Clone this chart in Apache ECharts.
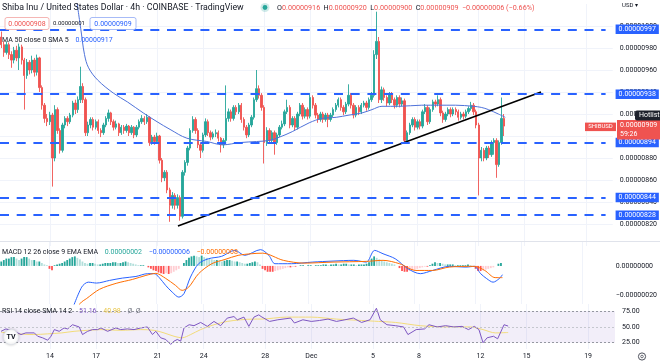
<!DOCTYPE html>
<html><head><meta charset="utf-8">
<script src="https://cdn.jsdelivr.net/npm/echarts@6/dist/echarts.min.js"></script>
<style>html,body{margin:0;padding:0;background:#fff}#c{width:660px;height:362px}</style>
</head><body><div id="c"></div>
<script>
// ---- price data (units of 1e-8 USD), one 4h candle per slot ----
const opens = [990,983,976,983,974,969,978,971,981,969,
955,967,960,969,958,971,944,928,916,913,
919,880,924,905,887,910,916,913,919,930,
924,933,945,933,903,910,915,908,913,905,
903,910,916,921,913,908,911,903,908,905,
909,903,908,901,908,913,916,913,917,894,
899,895,900,878,862,867,851,837,846,837,
844,827,867,876,889,905,915,905,892,887,
901,913,903,899,902,903,898,892,896,916,
922,916,926,922,928,915,908,901,910,917,
933,943,937,926,894,905,896,903,894,901,
908,911,922,926,910,916,908,920,928,918,
924,918,935,928,919,915,920,915,919,915,
919,924,928,933,926,922,929,937,928,919,
926,922,928,930,926,933,937,974,986,933,
942,935,930,938,933,928,935,929,932,896,
903,910,915,908,913,909,922,926,913,924,
931,929,933,921,915,920,924,920,924,922,
917,920,918,922,925,928,922,910,880,887,
880,889,883,894,896,874,894,916];
const closes = [983,976,983,974,969,978,971,981,969,955,
967,960,969,958,971,944,928,916,913,919,
880,924,905,887,910,916,913,919,930,924,
933,945,933,903,910,915,908,913,905,903,
910,916,921,913,908,911,903,908,905,909,
903,908,901,908,913,916,913,917,894,899,
895,900,878,862,867,851,837,846,837,844,
827,867,876,889,905,915,905,892,887,901,
913,903,899,902,903,898,892,896,916,922,
916,926,922,928,915,908,901,910,917,933,
943,937,926,894,905,896,903,894,901,908,
911,922,926,910,916,908,920,928,918,924,
918,935,928,919,915,920,915,919,915,919,
924,928,933,926,922,929,937,928,919,926,
922,928,930,926,933,937,974,986,933,942,
935,930,938,933,928,935,929,932,896,903,
910,915,908,913,909,922,926,913,924,931,
929,933,921,915,920,924,920,924,922,917,
920,918,922,925,928,922,910,880,887,880,
889,883,894,896,874,894,916,909];
const lows = [980,972,974,970,962,966,968,960,965,924,
952,956,957,954,955,940,924,912,909,910,
854,877,902,884,885,907,909,911,917,920,
921,930,930,900,900,907,905,906,902,899,
901,908,913,910,905,906,900,901,902,903,
900,901,898,899,906,911,910,911,891,892,
892,893,875,858,859,848,822,834,833,834,
823,825,864,873,887,903,902,889,880,885,
899,900,896,897,899,895,885,889,894,913,
913,914,919,920,912,905,898,899,908,915,
931,934,923,875,891,893,894,883,892,899,
906,909,920,907,908,905,906,918,915,916,
915,916,925,916,912,913,912,913,908,913,
917,922,926,923,919,920,927,925,916,917,
919,920,926,923,924,931,935,970,930,930,
932,927,928,930,925,926,926,927,893,894,
901,908,905,906,906,907,920,910,911,922,
926,927,918,912,913,918,917,918,919,914,
915,915,916,920,923,919,907,846,877,877,
878,880,881,883,862,872,892,900];
const highs = [995,986,986,985,977,981,982,984,983,971,
970,969,973,971,974,972,946,930,920,922,
921,928,926,907,912,918,918,921,932,933,
936,963,948,935,913,917,917,915,915,907,
912,918,924,922,915,914,912,910,910,911,
910,910,909,910,915,919,918,920,918,901,
901,903,901,880,869,869,853,849,848,847,
846,869,878,891,907,918,917,907,894,903,
916,915,905,904,906,905,899,898,946,925,
924,928,928,930,930,917,910,912,919,935,
960,946,939,928,908,907,905,905,903,910,
914,924,933,928,918,918,922,930,930,926,
926,939,937,930,921,922,922,921,921,921,
926,930,935,935,928,931,947,939,930,928,
928,930,932,932,935,940,978,1013,990,945,
944,937,940,940,935,937,937,935,934,905,
912,917,917,915,915,924,929,928,926,933,
933,937,935,923,922,926,926,926,926,924,
922,922,924,927,931,930,924,912,890,889,
891,891,896,898,898,896,935,920];

const maSlots  = [29.5,31.1,32.6,34.2,37.7,43.9,49.4,55.6,61.0,66.1,72.7,80.5,86.8,93.4,100.0,105.1,109.0,114.0,120.6,125.7,131.2,136.2,141.3,145.2,149.1,155.7,164.7,177.9,184.9,188.0,190.8,194.7,197.4];
const maValues = [1024,998,974,962,951,939,931,921,913,906,898,895,892,894,895,896,899,904,912,916,917,919,921,924,927,927,928,928,927,926,924,920,917];

// trend line and horizontal levels
const trendSlots = [69.2, 211.4];
const trendValues = [818.2, 940];
const levels = [997, 938, 894, 844, 828];

// MACD (units of 1e-8)
const macdHist = [3,4,5,5,6,6,5,4,5,6,6,5,4,4,3,3,
2,1,0.5,
-2,-3,
0.5,1,1.5,
2,3,4,5,6,6.5,5.5,4.5,
3,2,1.5,2,2,1.5,
1,1,1.5,2,2,
2,2.5,2.5,2,2,2.5,3,2.5,2,1.5,1,0.5,
0.5,0.5,0,-1,
-2,-3,-3.5,-4.5,-5,-5.5,-5,-5.5,-5,-4,-3,
-2,0,2,
4,5.5,6.5,7,6.5,6,7,6,
5.5,5,4.5,4,4,3.5,3,3.5,4,4,
3.5,3,3,2.5,2,1.5,1.5,2,2.5,3,
2.5,1,
-2,-3,-4,-4,-4,-3.5,-3,-2.5,-2,
-1.5,-1,-1,-0.5,-0.5,0,0.5,0.5,0,0.5,0.5,0,0.5,0.5,
0.5,1,1,0.5,1,1,1.5,1,1,1.5,1.5,1,1,1,0.5,1,1,1,
1.5,2.5,5,6.5,5.5,4.5,3.5,
3,2.5,2,1.5,1,
0,-1.5,-3.5,-4,-4,-3.5,-3,
-2.5,-2,-1.5,-1,-0.5,-0.5,0.5,
1.5,2.5,2,2,1.5,
1,1,1,1,0.5,0.5,0.5,0.5,0.5,1,0.5,
0,-2,-3.5,-3.5,-3,-2.5,-2,-1.5,-1,
0,1.5,2];
const macdSlots  = [27.5,31.7,34.3,37.6,42.7,47.8,53.1,57.7,60.3,62.2,64.8,67.4,70.0,72.0,74.6,77.8,81.7,86.8,92.1,96.0,102.2,105.5,107.9,114.4,122.6,130.8,139.0,143.9,147.2,150.5,155.3,160.3,165.2,170.1,176.6,183.2,186.5,189.0,191.4,193.9,196.3,197.6];
const macdValues = [-32,-14.5,-11.1,-11.7,-9.9,-8.3,-7.2,-5.3,-5.3,-7.8,-13.3,-17.9,-21.3,-19,-7.6,1.5,4.9,6.5,10.6,7.2,11.1,7.2,1.5,1.5,2.6,3.3,3.8,2.6,10.6,8.3,4.9,-1.9,-5.3,-3.1,-0.3,-0.8,-0.3,-5.3,-8.7,-11.1,-8.7,-6];
const signalSlots  = [29.5,31.1,33.7,38.7,45.3,51.8,57.0,60.9,64.8,68.7,71.3,73.9,77.8,83.0,88.2,93.4,98.6,103.0,111.2,119.4,130.8,143.9,150.5,157.0,163.5,170.1,176.6,186.5,190.6,194.7,197.6];
const signalValues = [-32,-25.6,-22.2,-16,-11.9,-9.2,-6.5,-5.1,-8.5,-13.3,-16.7,-14.5,-5.3,1.5,4.4,7.2,8.3,8.7,3.8,1.9,2.6,3.1,3.8,1.5,-3.1,-3.1,-0.8,-0.3,-3.1,-8,-8];

// RSI
const rsiSlots  = [-0.1,1.8,5.1,7.7,9.6,12.9,14.2,16.1,18.1,19.4,20.7,22.6,24.5,25.9,27.8,30.4,31.7,33.7,35.6,37.6,38.9,41.5,44.7,46.6,49.2,51.8,54.4,57.0,59.0,60.3,62.2,64.2,66.1,67.4,68.7,70.0,71.3,73.3,75.2,77.8,80.4,83.0,85.6,88.2,90.8,92.1,94.7,96.6,98.6,100.5,101.4,104.7,107.9,112.9,114.4,117.7,121.0,124.2,127.5,130.8,134.1,137.4,140.6,143.9,146.4,147.9,150.5,153.8,157.0,158.7,161.9,165.2,166.9,170.1,173.4,176.6,179.8,182.3,184.6,186.4,188.0,189.6,192.1,193.7,196.2,197.8];
const rsiValues = [42.9,46.7,42.9,37.8,40.4,40.4,35.1,32.7,28.9,35.1,45.6,42.9,48.2,46.7,53.3,49.8,37.8,42.9,45.6,45.6,48.2,42.9,48.2,45.6,46.7,45.6,48.2,49.8,37.8,42.9,32.7,30,22.2,27.4,30,27.4,48.2,53.3,51.8,56.9,50.7,58.5,51.8,63.8,66.2,61.1,65.3,50.7,65.3,68.9,66.2,58.5,61.1,63.8,56,61.1,58.5,60,62.2,58.5,61.1,63.8,56.9,61.1,79.3,61.1,53.3,51.8,49.8,37.8,45.6,46.7,53.3,49.8,51.8,49.8,50.7,45.6,50.7,45.6,24.9,32.7,35.1,31.1,53.3,51.16];
const rsiSmaSlots  = [-0.1,5,12.7,18.1,23.6,28.4,33.7,38.9,46.6,54.4,59.6,63.5,67.4,70.6,73.9,77.8,83.0,88.2,93.4,98.6,101.4,111.2,121.0,130.8,140.6,147.2,153.8,163.5,173.4,183.2,188.0,192.8,197.8];
const rsiSmaValues = [41.4,39.3,37.8,38.9,40.4,42.9,44.5,45.6,44.5,45.6,44.5,40.4,35.1,32.7,37.8,45.6,53.3,58.5,61.1,62.2,62.2,65.3,65.3,62.2,60,58.5,56.9,51.8,49.8,49.8,45.6,40.4,40.98];

// time axis ticks
const tickSlots  = [19,37,61,79,103,121,145,163,187,205,229];
const tickLabels = ['14','17','21','24','28','Dec','5','8','12','15','19'];

// ---------------------------------------------------------------
const FONT = 'Roboto, "Noto Sans", sans-serif';
const T = '#131722';
const UP = '#26a69a', DOWN = '#ef5350', BLUE = '#2962ff';
const fmtPrice = v => (v < 0 ? '\u2212' : '') + (Math.abs(v) / 1e8).toFixed(8);
const pairs = (xs, ys) => xs.map((x, k) => [x, ys[k]]);

const candleData = closes.map((c, i) => [i, opens[i], c, lows[i], highs[i]]);
const histData = macdHist.map((v, i) => {
  const prev = i > 0 ? macdHist[i - 1] : v;
  let col;
  if (v >= 0) col = v >= prev ? UP : '#b2dfdb';
  else col = v <= prev ? '#ff5252' : '#ffcdd2';
  return { value: [i, v], itemStyle: { color: col } };
});

const X0 = -0.5, X1 = 239.5;
function xAx(gi, showLabels) {
  return {
    type: 'value', gridIndex: gi, min: X0, max: X1,
    axisLine: { show: false },
    axisTick: { show: false, customValues: tickSlots },
    splitLine: { show: true, lineStyle: { color: '#f0f3fa', width: 1 } },
    axisLabel: {
      show: showLabels, customValues: tickSlots, color: T, fontSize: 7, fontFamily: FONT, margin: 4,
      formatter: v => { const k = tickSlots.indexOf(v); return k >= 0 ? tickLabels[k] : ''; }
    }
  };
}

const chart = echarts.init(document.getElementById('c'), null, { renderer: 'canvas' });
const option = {
  animation: false,
  backgroundColor: '#fff',
  grid: [
    { left: -1, right: 45, top: 4, height: 242 },
    { left: -1, right: 45, top: 241, height: 63 },
    { left: -1, right: 45, top: 304, height: 45 }
  ],
  xAxis: [xAx(0, false), xAx(1, false), xAx(2, true)],
  yAxis: [
    { type: 'value', gridIndex: 0, position: 'right', min: 800, max: 1020, interval: 20,
      axisLine: { show: false }, axisTick: { show: false },
      splitLine: { show: true, showMinLine: false, showMaxLine: false, lineStyle: { color: '#f0f3fa' } },
      axisLabel: { color: T, fontSize: 7, fontFamily: FONT, margin: 7,
        formatter: v => (v >= 1020 || v <= 800) ? '' : fmtPrice(v) } },
    { type: 'value', gridIndex: 1, position: 'right', min: -26, max: 17,
      axisLine: { show: false }, axisTick: { show: false }, splitLine: { show: false },
      axisLabel: { color: T, fontSize: 7, fontFamily: FONT, margin: 7, customValues: [0, -20],
        formatter: v => (v === 0 || v === -20) ? fmtPrice(v) : '' } },
    { type: 'value', gridIndex: 2, position: 'right', min: 15, max: 86,
      axisLine: { show: false }, axisTick: { show: false }, splitLine: { show: false },
      axisLabel: { color: T, fontSize: 7, fontFamily: FONT, margin: 7, customValues: [25, 50, 75],
        formatter: v => (v === 25 || v === 50 || v === 75) ? v.toFixed(2) : '' } }
  ],
  series: [
    { type: 'candlestick', xAxisIndex: 0, yAxisIndex: 0, data: candleData, barWidth: 1.9,
      itemStyle: { color: UP, color0: DOWN, borderColor: UP, borderColor0: DOWN, borderWidth: 0.9 },
      markLine: {
        silent: true, symbol: ['none', 'none'], animation: false,
        lineStyle: { color: BLUE, width: 2, type: [9, 7.7] },
        label: { show: true, position: 'end', distance: 10, color: '#fff', backgroundColor: BLUE,
                 padding: [1.5, 3, 1, 3], fontSize: 7, lineHeight: 7, fontFamily: FONT },
        data: levels.map(v => [
          { coord: [X0, v], value: v, label: { formatter: fmtPrice(v) } },
          { coord: [236.7, v], value: v }
        ])
      }
    },
    { type: 'line', xAxisIndex: 0, yAxisIndex: 0, data: pairs(maSlots, maValues), smooth: 0.35,
      symbol: 'none', lineStyle: { color: '#4f72d9', width: 1 }, z: 3 },
    { type: 'line', xAxisIndex: 0, yAxisIndex: 0, data: pairs(trendSlots, trendValues),
      symbol: 'none', lineStyle: { color: '#000', width: 1.6 }, z: 4 },
    { type: 'bar', xAxisIndex: 1, yAxisIndex: 1, data: histData, barWidth: 1.8 },
    { type: 'line', xAxisIndex: 1, yAxisIndex: 1, data: pairs(macdSlots, macdValues), smooth: 0.3,
      symbol: 'none', lineStyle: { color: BLUE, width: 1 } },
    { type: 'line', xAxisIndex: 1, yAxisIndex: 1, data: pairs(signalSlots, signalValues), smooth: 0.3,
      symbol: 'none', lineStyle: { color: '#ff6d00', width: 1 } },
    { type: 'line', xAxisIndex: 2, yAxisIndex: 2, data: pairs(rsiSmaSlots, rsiSmaValues), smooth: 0.3,
      symbol: 'none', lineStyle: { color: '#f3dc7a', width: 1 } },
    { type: 'line', xAxisIndex: 2, yAxisIndex: 2, data: pairs(rsiSlots, rsiValues),
      symbol: 'none', lineStyle: { color: '#7e57c2', width: 1 },
      markArea: { silent: true, itemStyle: { color: 'rgba(126,87,194,0.1)' },
        data: [[{ yAxis: 25 }, { yAxis: 75 }]] },
      markLine: { silent: true, symbol: ['none', 'none'], label: { show: false },
        lineStyle: { color: '#9598a1', width: 1, type: [2, 2] },
        data: [{ yAxis: 75 }, { yAxis: 50, lineStyle: { color: '#c5c7ce', type: [2, 2] } }, { yAxis: 25 }] } }
  ]
};
chart.setOption(option);

// overlays (legend texts, price tag) positioned through the chart's scales
const yLast = chart.convertToPixel({ yAxisIndex: 0 }, closes[closes.length - 1]);
function txt(x, y, text, color, size, align, weight) {
  return { type: 'text', x: x, y: y, silent: true, z: 110,
    style: { text: text, fill: color, fontSize: size, fontFamily: FONT, fontWeight: weight || 'normal',
             align: align || 'left', verticalAlign: 'middle' } };
}
const rich = (fs) => ({
  k: { fill: T, fontSize: fs, fontFamily: FONT },
  r: { fill: DOWN, fontSize: fs, fontFamily: FONT },
  t: { fill: UP, fontSize: fs, fontFamily: FONT },
  b: { fill: BLUE, fontSize: fs, fontFamily: FONT },
  o: { fill: '#ff6d00', fontSize: fs, fontFamily: FONT },
  p: { fill: '#7e57c2', fontSize: fs, fontFamily: FONT },
  y: { fill: '#e8c64a', fontSize: fs, fontFamily: FONT },
  g: { fill: '#787b86', fontSize: fs, fontFamily: FONT }
});
const graphics = [
  { type: 'line', silent: true, shape: { x1: 0, y1: 241.5, x2: 660, y2: 241.5 }, style: { stroke: '#e0e3eb', lineWidth: 1 } },
  txt(2, 8, 'Shiba Inu / United States Dollar \u00b7 4h \u00b7 COINBASE \u00b7 TradingView', T, 8.8),
  { type: 'circle', silent: true, shape: { cx: 265, cy: 7.5, r: 4.5 }, style: { fill: 'rgba(38,166,154,0.22)' } },
  { type: 'circle', silent: true, shape: { cx: 265, cy: 7.5, r: 2.4 }, style: { fill: UP } },
  { type: 'text', x: 277, y: 8, silent: true, z: 110,
    style: { verticalAlign: 'middle', rich: rich(7.2),
      text: '{k|O}{r|0.00000916} {k|H}{r|0.00000920} {k|L}{r|0.00000900} {k|C}{r|0.00000909} {r|\u22120.00000006 (\u22120.66%)}' } },
  { type: 'rect', silent: true, z: 105, shape: { x: 5, y: 17.5, width: 44, height: 12, r: 2 }, style: { fill: '#fff', stroke: '#f3a3a1', lineWidth: 0.8 } },
  txt(27, 23.8, '0.00000908', DOWN, 7, 'center'),
  txt(53, 23.8, '0.00000001', T, 6),
  { type: 'rect', silent: true, z: 105, shape: { x: 90, y: 17.5, width: 46, height: 12, r: 2 }, style: { fill: '#fff', stroke: '#90a9f5', lineWidth: 0.8 } },
  txt(113, 23.8, '0.00000909', BLUE, 7, 'center'),
  { type: 'text', x: 2, y: 40, silent: true, z: 110,
    style: { verticalAlign: 'middle', rich: rich(7), text: '{k|MA 50 close 0 SMA 5}  {b|0.00000917}' } },
  txt(622, 5.5, 'USD \u25be', T, 6),
  // current price tag
  { type: 'rect', silent: true, z: 105, shape: { x: 585, y: yLast - 3.5, width: 31, height: 8.5 }, style: { fill: DOWN } },
  txt(600.5, yLast + 0.8, 'SHIBUSD', '#fff', 6, 'center'),
  { type: 'rect', silent: true, z: 105, shape: { x: 617, y: yLast - 6, width: 43, height: 19.5 }, style: { fill: DOWN } },
  txt(620, yLast - 0.8, fmtPrice(closes[closes.length - 1]), '#fff', 7),
  txt(620, yLast + 8, '59:26', '#fff', 7),
  // hotlist tooltip
  { type: 'rect', silent: true, z: 106, shape: { x: 635, y: 110.5, width: 28, height: 10, r: 2 }, style: { fill: '#1e222d' } },
  txt(639, 115.7, 'Hotlist', '#fff', 7),
  // MACD legend
  { type: 'text', x: 2, y: 252.7, silent: true, z: 110,
    style: { verticalAlign: 'middle', rich: rich(7),
      text: '{k|MACD 12 26 close 9 EMA EMA}  {t|0.00000002}  {b|\u22120.00000006}  {o|\u22120.00000008}' } },
  // RSI legend
  { type: 'text', x: 2, y: 311.7, silent: true, z: 110,
    style: { verticalAlign: 'middle', rich: rich(7),
      text: '{k|RSI 14 close SMA 14 2}  {p|51.16}  {y|40.98}  {g|\u00d8  \u00d8}' } },
  // TradingView badge
  { type: 'circle', silent: true, z: 105, shape: { cx: 11, cy: 337, r: 7.5 },
    style: { fill: '#fff', stroke: '#e0e3eb', lineWidth: 0.8, shadowBlur: 3, shadowColor: 'rgba(0,0,0,0.2)' } },
  txt(11, 337.5, 'TV', '#131722', 7, 'center', 'bold'),
  // settings gear
  { type: 'circle', silent: true, shape: { cx: 642, cy: 356.5, r: 3.6 }, style: { fill: 'none', stroke: '#50535e', lineWidth: 1 } },
  { type: 'circle', silent: true, shape: { cx: 642, cy: 356.5, r: 1.3 }, style: { fill: 'none', stroke: '#50535e', lineWidth: 0.8 } }
];
chart.setOption({ graphic: graphics });
</script>
</body></html>
